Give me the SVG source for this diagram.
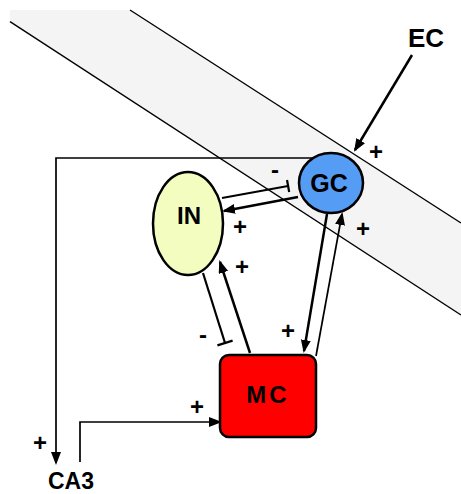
<svg xmlns="http://www.w3.org/2000/svg" width="461" height="494" viewBox="0 0 461 494">
<style>
.lbl{font-family:"Liberation Sans",Arial,sans-serif;font-weight:bold;fill:#000;text-anchor:middle}
.node{stroke:#000;stroke-width:2.5}
.thick{stroke:#000;stroke-width:2.5;fill:none}
.thin{stroke:#000;stroke-width:1.7;fill:none}
.band{stroke:#000;stroke-width:1.4;fill:none}
</style>
<defs>
<marker id="arr" markerUnits="userSpaceOnUse" markerWidth="14" markerHeight="11" refX="11" refY="5" orient="auto">
<path d="M0,0 L13,5 L0,10 z" fill="#000"/>
</marker>
</defs>
<rect x="0" y="0" width="461" height="494" fill="#fff"/>
<g id="band">
<polygon points="10,10 130,10 461,223 461,315 10,21.7" fill="#f4f4f4"/>
<line class="band" x1="130" y1="10" x2="461" y2="223"/>
<line class="band" x1="10" y1="21.7" x2="461" y2="315"/>
</g>
<g id="connectors">
<polyline class="thin" points="315,158 56,158 56,463" marker-end="url(#arr)"/>
<polyline class="thin" points="80,462 80,422 220,422" marker-end="url(#arr)"/>
<line class="thick" x1="222" y1="198" x2="288" y2="186" style="stroke-width:2.2"/>
<line class="thick" x1="287" y1="180" x2="289.2" y2="192" style="stroke-width:2.2"/>
<line class="thick" x1="298" y1="197" x2="224" y2="211" marker-end="url(#arr)"/>
<line class="thick" x1="250" y1="353" x2="220" y2="262" marker-end="url(#arr)"/>
<line class="thick" x1="203" y1="273" x2="225" y2="343" style="stroke-width:2.2"/>
<line class="thick" x1="217.4" y1="345.4" x2="232.6" y2="340.6" style="stroke-width:2.2"/>
<line class="thick" x1="327" y1="214" x2="304" y2="351" marker-end="url(#arr)"/>
<line class="thin" x1="316" y1="356" x2="342" y2="214" marker-end="url(#arr)"/>
<line class="thick" x1="412" y1="55" x2="355" y2="150" marker-end="url(#arr)"/>
</g>
<g id="GC">
<ellipse class="node" cx="331" cy="183" rx="32" ry="30" fill="#559cf5"/>
<text class="lbl" x="329" y="192" font-size="25">GC</text>
</g>
<g id="IN">
<ellipse class="node" cx="188" cy="223.5" rx="35" ry="51.5" fill="#f4fdc0"/>
<text class="lbl" x="189" y="224" font-size="24">IN</text>
</g>
<g id="MC">
<rect class="node" x="220" y="355" width="96" height="82" rx="9" fill="#ff0000"/>
<text class="lbl" x="268" y="403" font-size="24" letter-spacing="3">MC</text>
</g>
<g id="EC">
<text class="lbl" x="426" y="47" font-size="26">EC</text>
</g>
<g id="CA3">
<text class="lbl" x="71" y="489" font-size="23">CA3</text>
</g>
<g id="signs" class="lbl" font-size="24">
<text x="376" y="160">+</text>
<text x="363" y="237">+</text>
<text x="240" y="235">+</text>
<text x="242" y="275">+</text>
<text x="288" y="339">+</text>
<text x="197" y="415">+</text>
<text x="40" y="451">+</text>
<text x="275" y="178">-</text>
<text x="203" y="343">-</text>
</g>
</svg>
